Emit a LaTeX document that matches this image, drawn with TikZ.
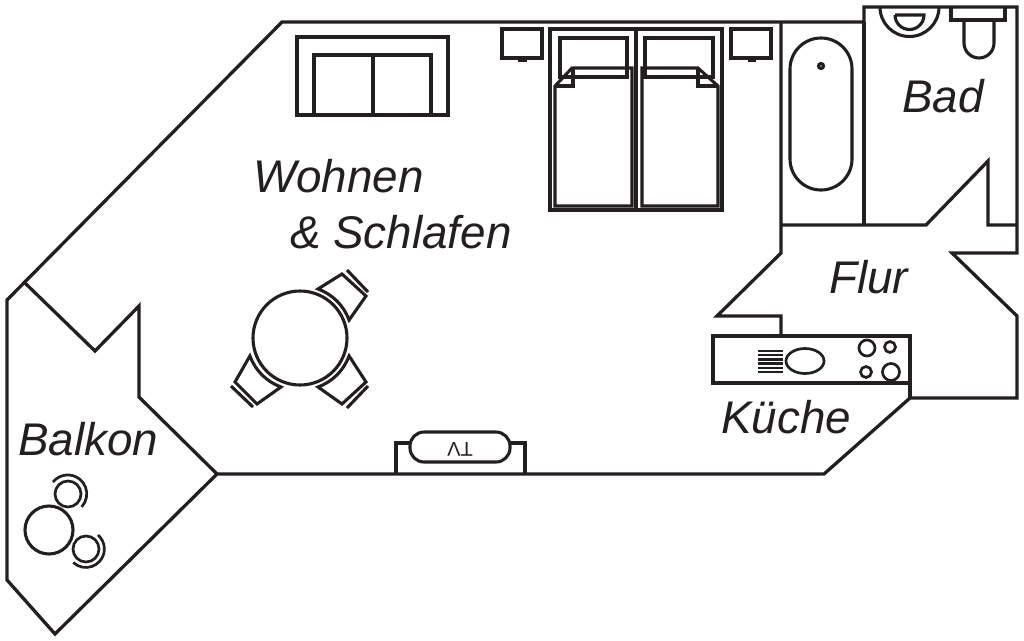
\documentclass[tikz,border=0pt]{standalone}
\usepackage{fontspec}
\setmainfont{Liberation Sans}
\definecolor{ink}{HTML}{231F20}
\tikzset{
  wall/.style={draw=ink,line width=3.3pt,miter limit=10},
  furn/.style={draw=ink,line width=3.1pt},
  thinfurn/.style={draw=ink,line width=2.7pt},
  room/.style={anchor=base west,inner sep=0pt,text=ink,font=\fontsize{45.8}{50}\selectfont\itshape}
}
\begin{document}
\begin{tikzpicture}[x=1pt,y=-1pt]
   \useasboundingbox (0,0) rectangle (1024,640);
   % walls
   \draw[wall] (781,22) -- (282,22) -- (7,300) -- (7,580) -- (55,634) -- (217,474)
               -- (824,474) -- (910,398) -- (1017,398) -- (1017,316) -- (952,253)
               -- (1017,253) -- (1017,7) -- (864,7) -- (864,22) -- (781,22);
   \draw[wall] (25,283) -- (95,351) -- (139,306) -- (139,397) -- (217,474);
   \draw[wall] (864,22) -- (864,225);
   \draw[wall] (781,22) -- (781,253) -- (717,316) -- (781,316) -- (781,336);
   \draw[wall] (781,225) -- (926,225) -- (988,161) -- (988,225) -- (1017,225);
   \draw[wall] (910,383) -- (910,398);
   % sofa
   \draw[furn] (297,115) rectangle (448,37);
   \draw[furn] (314,115) -- (314,55) -- (431,55) -- (431,115);
   \draw[furn] (373,55) -- (373,115);
   % bedside tables
   \draw[furn] (502,29) rectangle (542,58);
   \fill[ink] (518,58) rectangle (527,62);
   \draw[furn] (731,29) rectangle (771,58);
   \fill[ink] (748,58) rectangle (756,62);
   % beds
   \draw[furn] (550,29) rectangle (722,210);
   \draw[furn] (636,29) -- (636,210);
   \draw[furn] (560,38) rectangle (627,77);
   \draw[furn] (645,38) rectangle (713,77);
   \draw[furn] (555,86) -- (572,68) -- (632,68) -- (632,206) -- (555,206) -- cycle;
   \draw[furn] (573,68) -- (573,86) -- (555,86);
   \draw[furn] (718,86) -- (698,68) -- (642,68) -- (642,206) -- (718,206) -- cycle;
   \draw[furn] (698,68) -- (698,86) -- (718,86);
   % table and chairs
   \draw[furn] (300,338) circle (47pt);
   \draw[furn] (318,289) arc[start angle=70,end angle=20,radius=52pt] -- (366,296) -- (342,274) -- cycle;
   \draw[furn] (347,270) -- (368,292);
   \draw[furn] (318,387) arc[start angle=-70,end angle=-20,radius=52pt] -- (366,382) -- (342,404) -- cycle;
   \draw[furn] (347,408) -- (368,386);
   \draw[furn] (281,387) arc[start angle=-110,end angle=-160,radius=52pt] -- (235,382) -- (257,404) -- cycle;
   \draw[furn] (231,386) -- (253,407);
   % tv
   \draw[furn] (396,474) -- (396,443) -- (410,443);
   \draw[furn] (525,474) -- (525,443) -- (510,443);
   \draw[furn,rounded corners=14pt] (410,432) rectangle (510,462);
   \node[inner sep=0pt,rotate=180,text=ink,font=\fontsize{20}{22}\selectfont] (tv) at (460,449) {TV};
   % bath
   \draw[furn,rounded corners=31pt] (790,38) rectangle (852,190);
   \draw[furn] (821,66) circle (2.5pt);
   % basin and toilet
   \draw[furn] (880,7) arc[start angle=180,end angle=360,radius=29.5pt];
   \draw[furn] (895,15) -- (924,15) arc[start angle=0,end angle=-180,radius=14.5pt];
   \draw[furn] (951,7) -- (951,20) -- (1005,20) -- (1005,7);
   \draw[furn] (964,20) -- (964,43) arc[start angle=180,end angle=360,radius=15pt] -- (994,20);
   % kitchen
   \draw[furn] (713,336) rectangle (910,383);
   \draw[thinfurn,line width=2.3pt] (758,351) -- (783,351);
   \draw[thinfurn,line width=2.3pt] (758,355) -- (783,355);
   \draw[thinfurn,line width=2.3pt] (758,359.500) -- (783,359.500);
   \draw[thinfurn,line width=2.3pt] (758,363.500) -- (783,363.500);
   \draw[thinfurn,line width=2.3pt] (758,368) -- (783,368);
   \draw[thinfurn,line width=2.3pt] (758,372) -- (783,372);
   \draw[thinfurn] (805,361) ellipse [x radius=19pt,y radius=12.5pt];
   \draw[thinfurn] (867,348) circle (8pt);
   \draw[thinfurn] (890,347) circle (5.5pt);
   \draw[thinfurn] (866,372) circle (5.5pt);
   \draw[thinfurn] (891,372) circle (8.5pt);
   % balcony furniture
   \draw[furn] (49,530) circle (24pt);
   \draw[thinfurn] (68,494) circle (13pt);
   \draw[thinfurn] (53,482) arc[start angle=141,end angle=-43,radius=19pt];
   \draw[thinfurn] (86,549) circle (13pt);
   \draw[thinfurn] (98,535) arc[start angle=49,end angle=-133,radius=18.5pt];
   % rooms
   \node[room] (wohnen)   at (253,192) {Wohnen};
   \node[room] (schlafen) at (290,248) {\&\ Schlafen};
   \node[room] (balkon)   at (18,455)  {Balkon};
   \node[room] (kueche)   at (721,433) {Küche};
   \node[room] (flur)     at (829,293) {Flur};
   \node[room] (bad)      at (902,112) {Bad};
\end{tikzpicture}
\end{document}
